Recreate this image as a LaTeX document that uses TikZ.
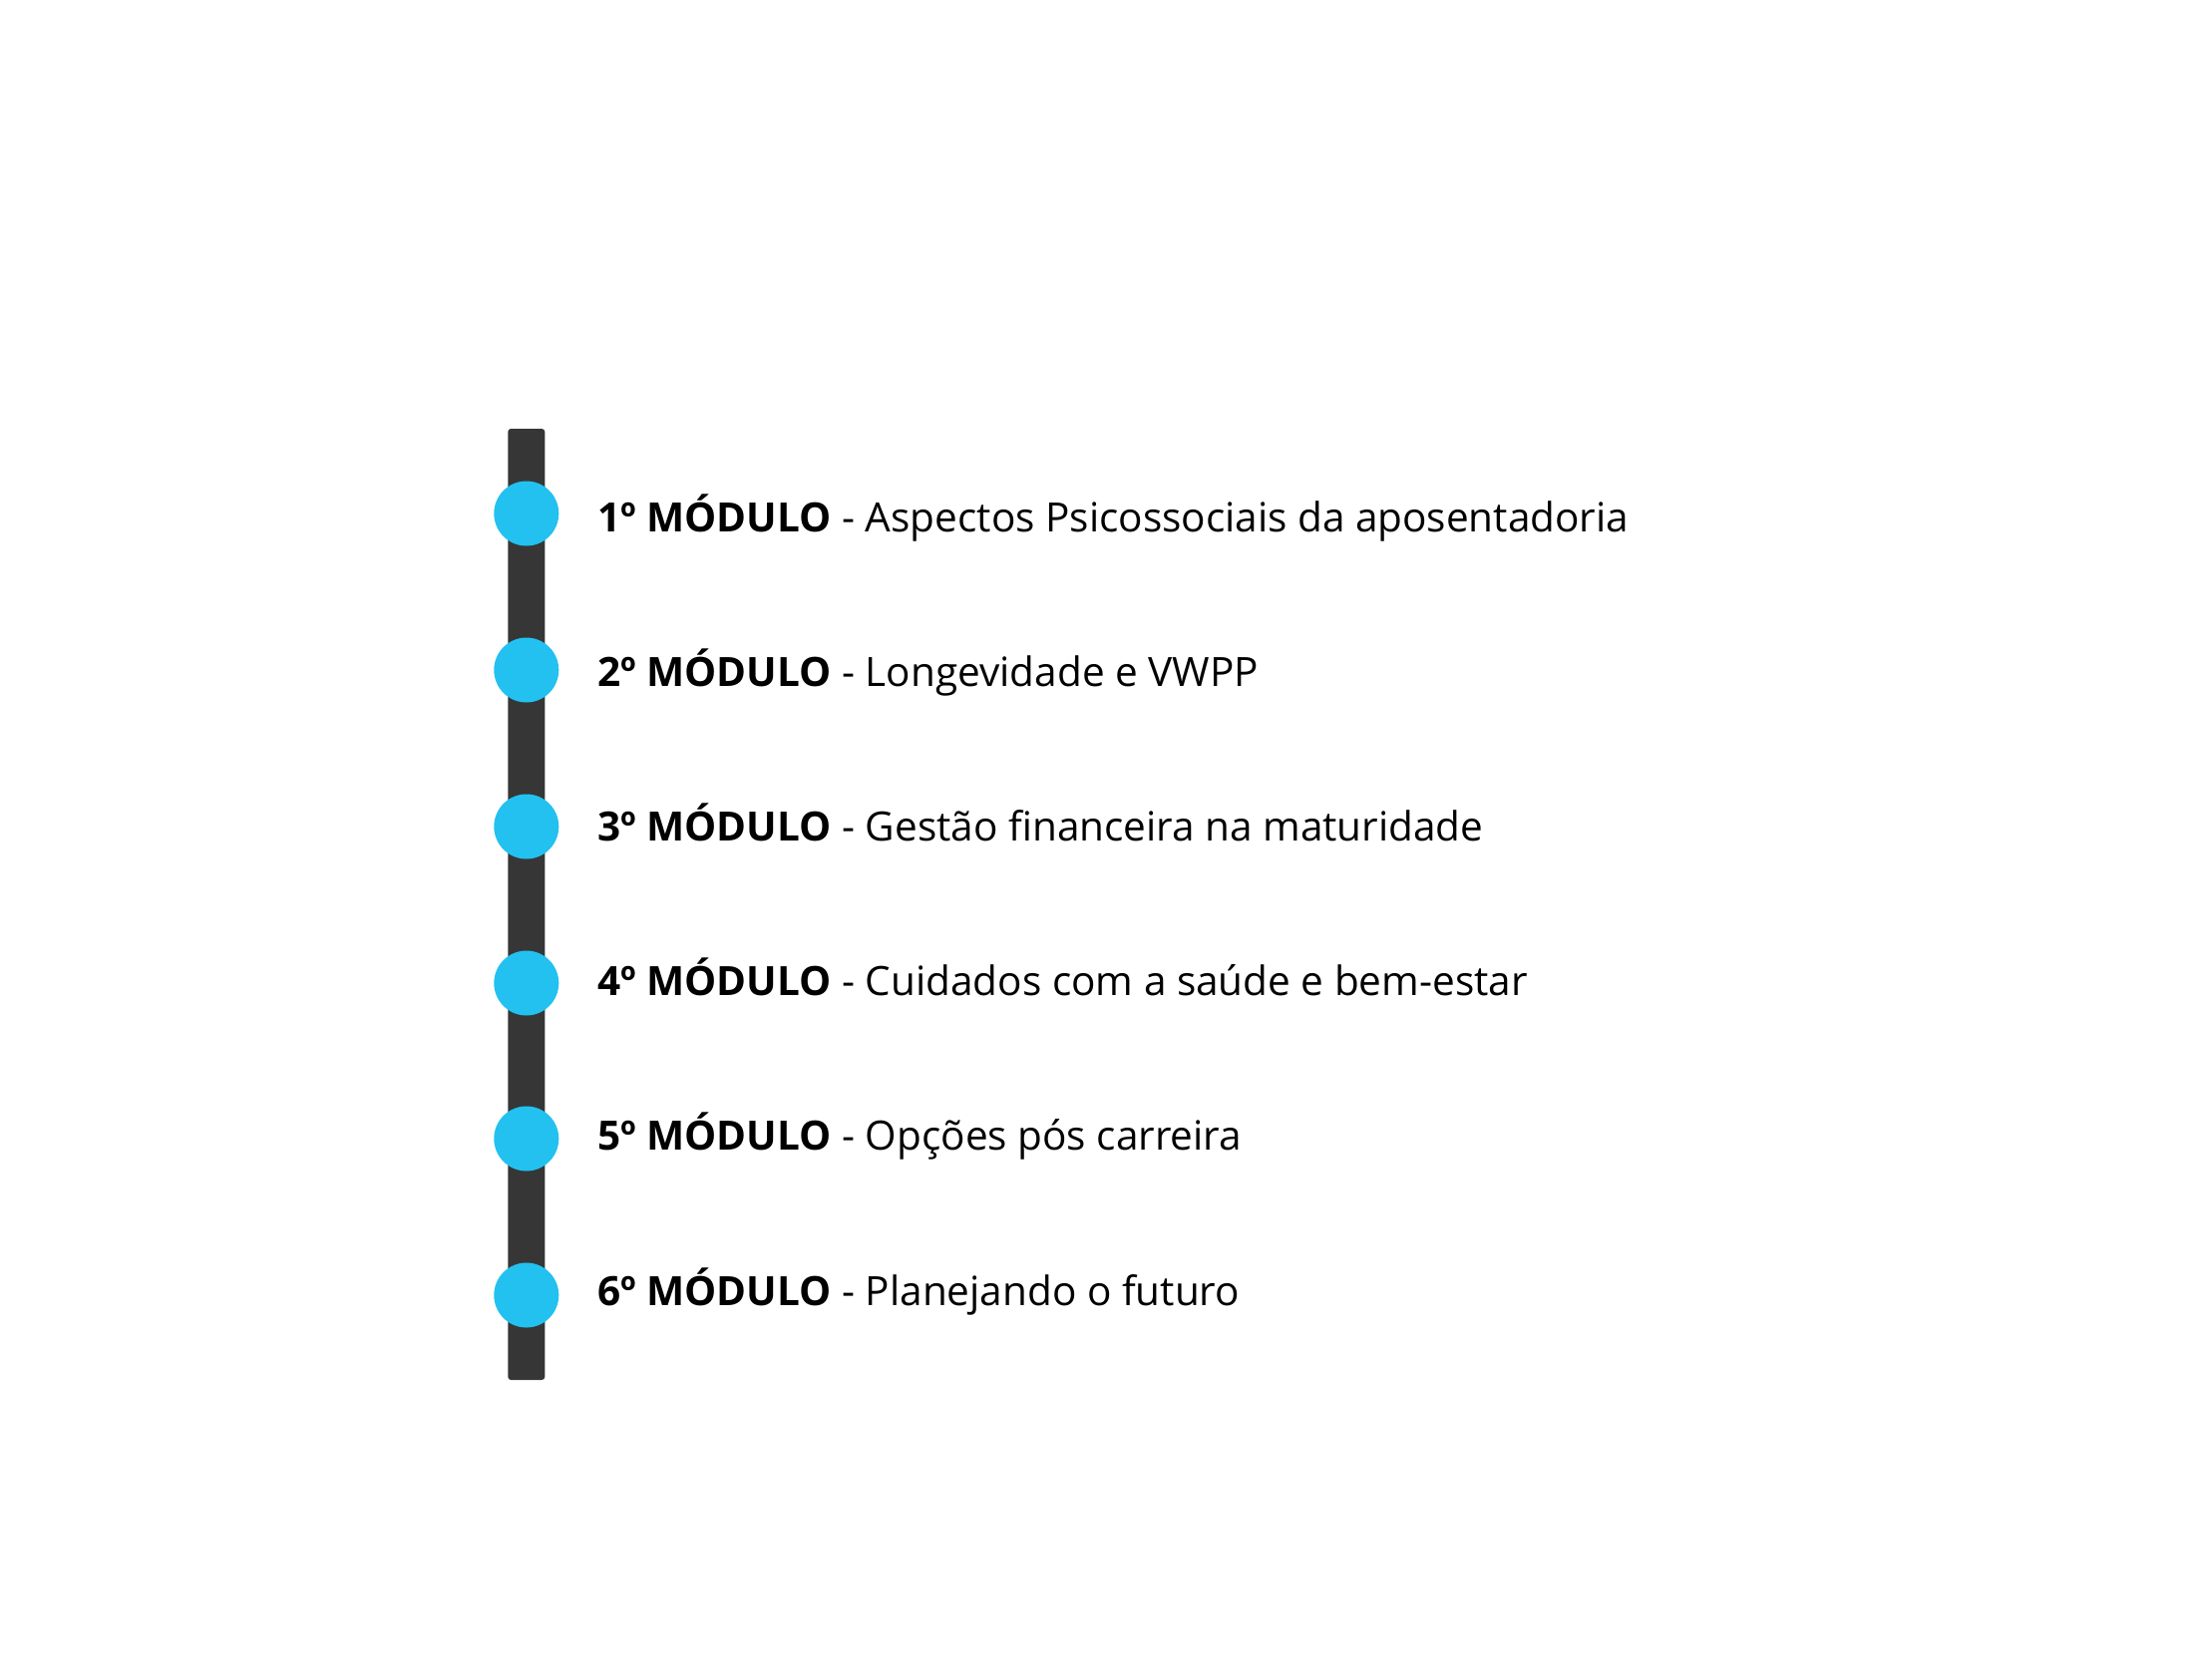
\documentclass[tikz,border=0pt]{standalone}
\usepackage{fontspec}
\setmainfont{Open Sans}
\definecolor{barcol}{HTML}{363636}
\definecolor{dotcol}{HTML}{22C1F0}
\begin{document}
\begin{tikzpicture}[x=1pt,y=-1pt,
  dot/.style={circle,fill=dotcol,draw=none,minimum size=65pt,inner sep=0pt},
  lbl/.style={anchor=base west,inner sep=0pt,font=\fontsize{40.5}{48}\selectfont,text=black},
  barbox/.style={fill=barcol,draw=none,rounded corners=3pt}]
\fill[white] (0,0) rectangle (2218,1682);
\useasboundingbox (0,0) rectangle (2218,1682);
\node[barbox,minimum width=37pt,minimum height=954pt,inner sep=0pt] (bar) at (527.8,907) {};
\foreach \i/\y/\b/\t in {1/515/533/Aspectos Psicossociais da aposentadoria,
                      2/672/688.2/Longevidade e VWPP,
                      3/829/843.4/Gestão financeira na maturidade,
                      4/986/998.6/Cuidados com a saúde e bem-estar,
                      5/1142/1153.8/Opções pós carreira,
                      6/1299/1309/Planejando o futuro}{
  \node[dot] (c\i) at (527.8,\y) {};
  \node[lbl] (t\i) at (599,\b) {\textbf{\i º MÓDULO} - \t};
}
\end{tikzpicture}
\end{document}
